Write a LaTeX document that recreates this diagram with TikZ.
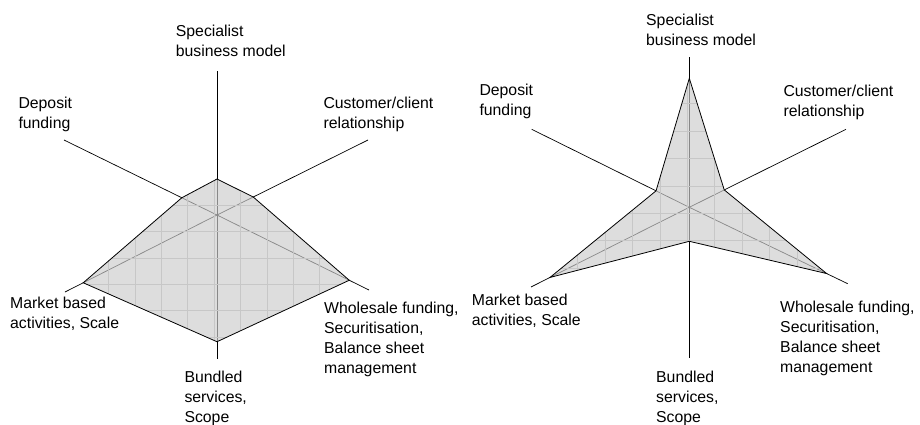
\documentclass[tikz,border=0pt]{standalone}
\usepackage{fontspec}
\setmainfont{Liberation Sans}
\usepackage{tikz}
\usetikzlibrary{calc}
\tikzstyle{axis} = [line width=0.7pt, black]
\tikzstyle{area} = [fill=black!20, fill opacity=0.67]
\tikzstyle{outline} = [line width=0.8pt, black, line join=miter]
\tikzstyle{webgrid} = [line width=0.5pt, black!22]
\tikzstyle{axislabel} = [inner sep=0pt, anchor=north west, align=left, font=\fontsize{15.8}{20}\selectfont]
\begin{document}
\begin{tikzpicture}[x=1pt, y=-1pt]
        \useasboundingbox (0,0) rectangle (920,424);

        % Chart 1
        \coordinate (c1o) at (217,215);
        \coordinate (c1n) at (217,71);
        \coordinate (c1ne) at (368,140);
        \coordinate (c1se) at (369,290);
        \coordinate (c1s) at (217,359);
        \coordinate (c1sw) at (65,292);
        \coordinate (c1nw) at (64,140);

        \draw [axis] (c1o) -- (c1n);
        \draw [axis] (c1o) -- (c1ne);
        \draw [axis] (c1o) -- (c1se);
        \draw [axis] (c1o) -- (c1s);
        \draw [axis] (c1o) -- (c1sw);
        \draw [axis] (c1o) -- (c1nw);

        \coordinate (c1pn) at ($(c1o)!0.25!(c1n)$);
        \coordinate (c1pne) at ($(c1o)!0.24!(c1ne)$);
        \coordinate (c1pse) at ($(c1o)!0.87!(c1se)$);
        \coordinate (c1ps) at ($(c1o)!0.88!(c1s)$);
        \coordinate (c1psw) at ($(c1o)!0.88!(c1sw)$);
        \coordinate (c1pnw) at ($(c1o)!0.23!(c1nw)$);

        \fill [area] (c1pn) -- (c1pne) -- (c1pse) -- (c1ps) -- (c1psw) -- (c1pnw) -- cycle;
        \begin{scope}
            \clip (c1pn) -- (c1pne) -- (c1pse) -- (c1ps) -- (c1psw) -- (c1pnw) -- cycle;
            \draw [webgrid, shift={(2.8,20.2)}] (-10,430) grid [step=26.4pt] (940,-30);
        \end{scope}
        \draw [outline] (c1pn) -- (c1pne) -- (c1pse) -- (c1ps) -- (c1psw) -- (c1pnw) -- cycle;

        \node (c1spec) [axislabel] at (175.7,24.6) {Specialist\\business model};
        \node (c1dep) [axislabel] at (18.3,96.9) {Deposit\\funding};
        \node (c1cust) [axislabel] at (323.3,96.9) {Customer/client\\relationship};
        \node (c1mkt) [axislabel] at (10,297.3) {Market based\\activities, Scale};
        \node (c1whl) [axislabel] at (324,302.3) {Wholesale funding,\\Securitisation,\\Balance sheet\\management};
        \node (c1bnd) [axislabel] at (184.3,370.6) {Bundled\\services,\\Scope};

        % Chart 2
        \coordinate (c2o) at (689.3,207.3);
        \coordinate (c2n) at (689.3,57.3);
        \coordinate (c2ne) at (846,129.3);
        \coordinate (c2se) at (847.7,283.7);
        \coordinate (c2s) at (689.3,357.7);
        \coordinate (c2sw) at (531,287);
        \coordinate (c2nw) at (531.7,129.3);

        \draw [axis] (c2o) -- (c2n);
        \draw [axis] (c2o) -- (c2ne);
        \draw [axis] (c2o) -- (c2se);
        \draw [axis] (c2o) -- (c2s);
        \draw [axis] (c2o) -- (c2sw);
        \draw [axis] (c2o) -- (c2nw);

        \coordinate (c2pn) at ($(c2o)!0.86!(c2n)$);
        \coordinate (c2pne) at ($(c2o)!0.223!(c2ne)$);
        \coordinate (c2pse) at ($(c2o)!0.867!(c2se)$);
        \coordinate (c2ps) at ($(c2o)!0.226!(c2s)$);
        \coordinate (c2psw) at ($(c2o)!0.88!(c2sw)$);
        \coordinate (c2pnw) at ($(c2o)!0.211!(c2nw)$);

        \fill [area] (c2pn) -- (c2pne) -- (c2pse) -- (c2ps) -- (c2psw) -- (c2pnw) -- cycle;
        \begin{scope}
            \clip (c2pn) -- (c2pne) -- (c2pse) -- (c2ps) -- (c2psw) -- (c2pnw) -- cycle;
            \draw [webgrid, shift={(2.3,21.5)}] (400,430) grid [step=27.4pt] (940,-30);
        \end{scope}
        \draw [outline] (c2pn) -- (c2pne) -- (c2pse) -- (c2ps) -- (c2psw) -- (c2pnw) -- cycle;

        \node (c2spec) [axislabel] at (646,13.6) {Specialist\\business model};
        \node (c2dep) [axislabel] at (479.3,83.6) {Deposit\\funding};
        \node (c2cust) [axislabel] at (783.3,85.3) {Customer/client\\relationship};
        \node (c2mkt) [axislabel] at (471.7,293.9) {Market based\\activities, Scale};
        \node (c2whl) [axislabel] at (780,300.6) {Wholesale funding,\\Securitisation,\\Balance sheet\\management};
        \node (c2bnd) [axislabel] at (656,370.6) {Bundled\\services,\\Scope};

\end{tikzpicture}
\end{document}
